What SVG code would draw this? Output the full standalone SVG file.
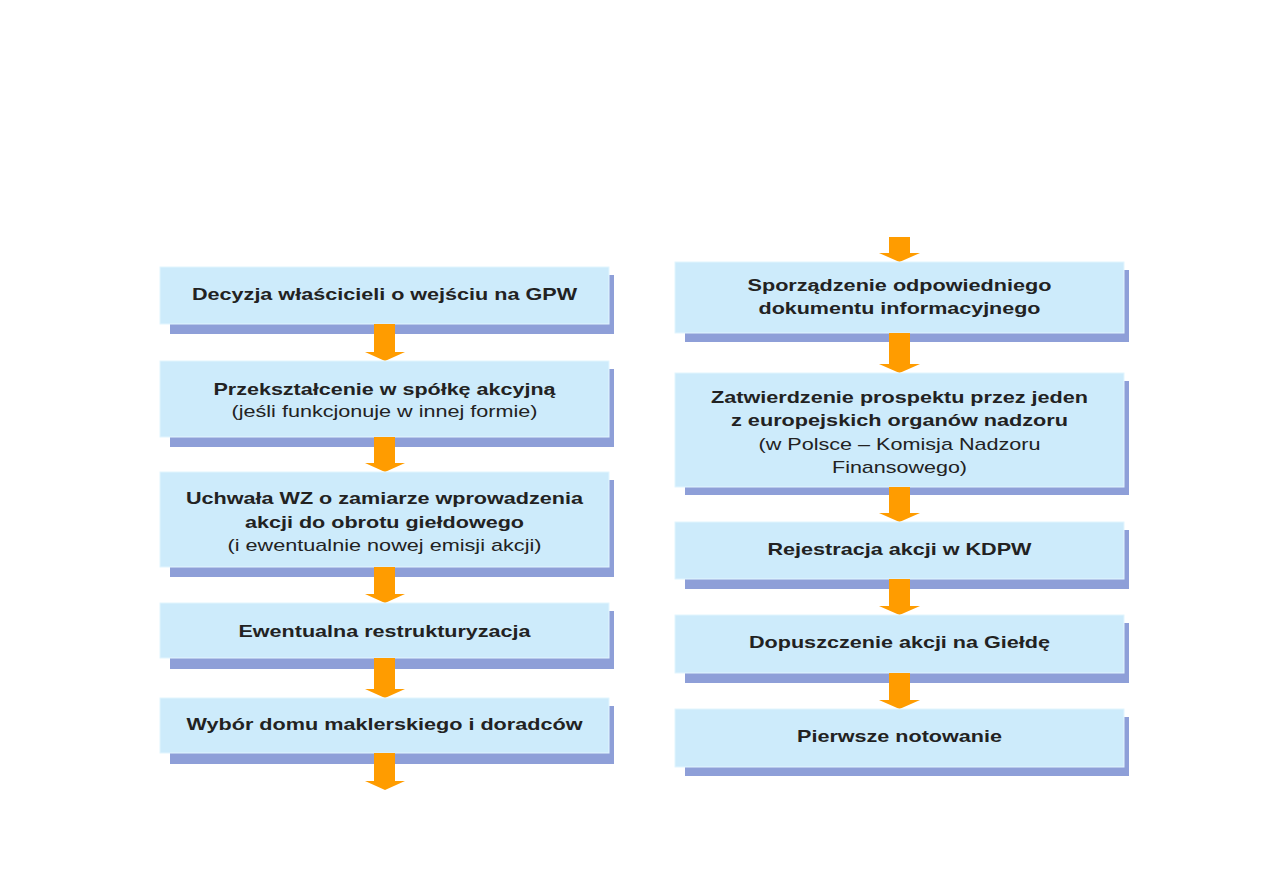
<svg xmlns="http://www.w3.org/2000/svg" width="1263" height="893" viewBox="0 0 1263 893">
<defs>
<style>
.box{fill:#CDEBFB;stroke:#E2F5FE;stroke-width:1}
.sh{fill:#8E9FD8}
.t{font-family:"Liberation Sans",Arial,sans-serif;font-size:17px;fill:#222;text-anchor:middle}
.b{font-weight:bold}
.arr{fill:#FF9C00}
</style>
</defs>
<rect width="1263" height="893" fill="#fff"/>
<g id="connectors">
<polygon class="arr" points="374,325 395,325 395,352 405,352 385,361 365,352 374,352"/>
<polygon class="arr" points="374,437 395,437 395,463 405,463 385,472 365,463 374,463"/>
<polygon class="arr" points="374,567 395,567 395,594 405,594 385,603 365,594 374,594"/>
<polygon class="arr" points="374,658 395,658 395,689 405,689 385,698 365,689 374,689"/>
<polygon class="arr" points="374,753 395,753 395,781 405,781 385,790 365,781 374,781"/>
<polygon class="arr" points="889,237 910,237 910,253 920,253 899.5,262 879,253 889,253"/>
<polygon class="arr" points="889,333 910,333 910,364 920,364 899.5,373 879,364 889,364"/>
<polygon class="arr" points="889,487 910,487 910,513 920,513 899.5,522 879,513 889,513"/>
<polygon class="arr" points="889,579 910,579 910,606 920,606 899.5,615 879,606 889,606"/>
<polygon class="arr" points="889,673 910,673 910,700 920,700 899.5,709 879,700 889,700"/>
</g>
<g id="n1">
<rect class="sh" x="170" y="275" width="444" height="59"/>
<rect class="box" x="160" y="267" width="449" height="57"/>
<polygon class="arr" points="374,324 395,324 395,334 374,334"/>
<text class="t b" x="384.5" y="300" textLength="385" lengthAdjust="spacingAndGlyphs">Decyzja właścicieli o wejściu na GPW</text>
</g>
<g id="n2">
<rect class="sh" x="170" y="369" width="444" height="78"/>
<rect class="box" x="160" y="361" width="449" height="76"/>
<polygon class="arr" points="374,437 395,437 395,447 374,447"/>
<text class="t b" x="384.5" y="395" textLength="342" lengthAdjust="spacingAndGlyphs">Przekształcenie w spółkę akcyjną</text>
<text class="t" x="384.5" y="417" textLength="306" lengthAdjust="spacingAndGlyphs">(jeśli funkcjonuje w innej formie)</text>
</g>
<g id="n3">
<rect class="sh" x="170" y="480" width="444" height="97"/>
<rect class="box" x="160" y="472" width="449" height="95"/>
<polygon class="arr" points="374,567 395,567 395,577 374,577"/>
<text class="t b" x="384.5" y="504" textLength="397" lengthAdjust="spacingAndGlyphs">Uchwała WZ o zamiarze wprowadzenia</text>
<text class="t b" x="384.5" y="528" textLength="279" lengthAdjust="spacingAndGlyphs">akcji do obrotu giełdowego</text>
<text class="t" x="384.5" y="551" textLength="314" lengthAdjust="spacingAndGlyphs">(i ewentualnie nowej emisji akcji)</text>
</g>
<g id="n4">
<rect class="sh" x="170" y="611" width="444" height="58"/>
<rect class="box" x="160" y="603" width="449" height="55"/>
<polygon class="arr" points="374,658 395,658 395,669 374,669"/>
<text class="t b" x="384.5" y="637" textLength="292" lengthAdjust="spacingAndGlyphs">Ewentualna restrukturyzacja</text>
</g>
<g id="n5">
<rect class="sh" x="170" y="706" width="444" height="58"/>
<rect class="box" x="160" y="698" width="449" height="55"/>
<polygon class="arr" points="374,753 395,753 395,764 374,764"/>
<text class="t b" x="384.5" y="730" textLength="396" lengthAdjust="spacingAndGlyphs">Wybór domu maklerskiego i doradców</text>
</g>
<g id="n6">
<rect class="sh" x="685" y="270" width="444" height="72"/>
<rect class="box" x="675" y="262" width="449" height="71"/>
<polygon class="arr" points="889,333 910,333 910,342 889,342"/>
<text class="t b" x="899.5" y="291" textLength="304" lengthAdjust="spacingAndGlyphs">Sporządzenie odpowiedniego</text>
<text class="t b" x="899.5" y="314" textLength="282" lengthAdjust="spacingAndGlyphs">dokumentu informacyjnego</text>
</g>
<g id="n7">
<rect class="sh" x="685" y="381" width="444" height="114"/>
<rect class="box" x="675" y="373" width="449" height="114"/>
<polygon class="arr" points="889,487 910,487 910,495 889,495"/>
<text class="t b" x="899.5" y="403" textLength="377" lengthAdjust="spacingAndGlyphs">Zatwierdzenie prospektu przez jeden</text>
<text class="t b" x="899.5" y="426" textLength="337" lengthAdjust="spacingAndGlyphs">z europejskich organów nadzoru</text>
<text class="t" x="899.5" y="450" textLength="282" lengthAdjust="spacingAndGlyphs">(w Polsce – Komisja Nadzoru</text>
<text class="t" x="899.5" y="473" textLength="135" lengthAdjust="spacingAndGlyphs">Finansowego)</text>
</g>
<g id="n8">
<rect class="sh" x="685" y="530" width="444" height="59"/>
<rect class="box" x="675" y="522" width="449" height="57"/>
<polygon class="arr" points="889,579 910,579 910,589 889,589"/>
<text class="t b" x="899.5" y="555" textLength="264" lengthAdjust="spacingAndGlyphs">Rejestracja akcji w KDPW</text>
</g>
<g id="n9">
<rect class="sh" x="685" y="623" width="444" height="60"/>
<rect class="box" x="675" y="615" width="449" height="58"/>
<polygon class="arr" points="889,673 910,673 910,683 889,683"/>
<text class="t b" x="899.5" y="648" textLength="301" lengthAdjust="spacingAndGlyphs">Dopuszczenie akcji na Giełdę</text>
</g>
<g id="n10">
<rect class="sh" x="685" y="717" width="444" height="59"/>
<rect class="box" x="675" y="709" width="449" height="58"/>
<text class="t b" x="899.5" y="742" textLength="205" lengthAdjust="spacingAndGlyphs">Pierwsze notowanie</text>
</g>
</svg>
